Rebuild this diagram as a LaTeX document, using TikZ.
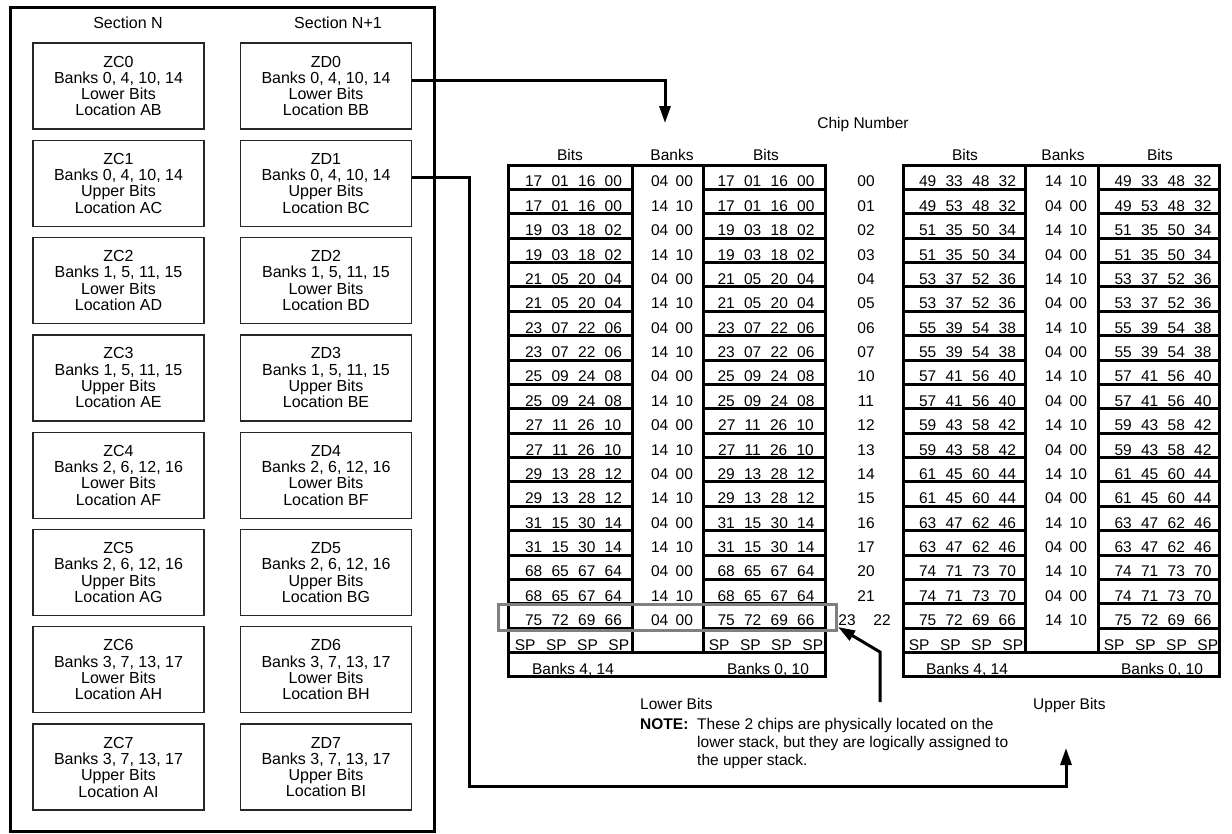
\documentclass[tikz,border=0pt]{standalone}
\usepackage{fontspec}
\setmainfont{Liberation Sans}
\usetikzlibrary{arrows.meta}
\newcommand\qgap{\hspace{9.3pt}}
\begin{document}
\begin{tikzpicture}[x=1pt,y=-1pt,
  panel/.style={draw=black,line width=3pt},
  chipbox/.style={draw=black!85,line width=1.3pt,minimum width=171pt,minimum height=86pt,
    align=center,inner sep=0pt,font=\fontsize{16}{16.3}\selectfont},
  sechead/.style={anchor=base,inner sep=0pt,font=\fontsize{16}{18}\selectfont},
  grid/.style={line width=3pt},
  tabtxt/.style={anchor=base,inner sep=0pt,font=\fontsize{15.5}{18}\selectfont},
  conn/.style={line width=3pt},
  tip/.style={-{Triangle[length=17pt,width=11pt]}},
  hilite/.style={draw=black!50,line width=3pt}
]
\useasboundingbox (0,0) rectangle (1232,833);

% ---------------- left panel ----------------
\draw[panel] (10,7) rectangle (434,831);
\node[sechead] (secn) at (128,28) {Section N};
\node[sechead] (secn1) at (338,28) {Section N+1};

\foreach \i/\bk/\lu/\la/\lb in {0/{0, 4, 10, 14}/Lower/AB/BB, 1/{0, 4, 10, 14}/Upper/AC/BC,
  2/{1, 5, 11, 15}/Lower/AD/BD, 3/{1, 5, 11, 15}/Upper/AE/BE,
  4/{2, 6, 12, 16}/Lower/AF/BF, 5/{2, 6, 12, 16}/Upper/AG/BG,
  6/{3, 7, 13, 17}/Lower/AH/BH, 7/{3, 7, 13, 17}/Upper/AI/BI}{
  \node[chipbox] (zc\i) at (118.5,{86+97.3*\i}) {ZC\i\\Banks \bk\\\lu\ Bits\\Location \la};
  \node[chipbox] (zd\i) at (326,{86+97.3*\i}) {ZD\i\\Banks \bk\\\lu\ Bits\\Location \lb};
}

% ---------------- table ----------------
\def\T{165}
\def\p{24.38}
\node[tabtxt] (chipnum) at (863,128) {Chip Number};

% stack frames
\foreach \a/\b/\c/\d/\s in {508/632/703/825/l, 903/1025.5/1098/1219/r}{
  \draw[grid] (\a,\T) rectangle (\b,{\T+20*\p});
  \draw[grid] (\c,\T) rectangle (\d,{\T+20*\p});
  \draw[grid] (\b,\T) -- (\c,\T);
  \draw[grid] (\a,{\T+20*\p}) rectangle (\d,{\T+21*\p});
  \foreach \k in {1,...,19}{
    \draw[grid] (\a,{\T+\k*\p}) -- (\b,{\T+\k*\p});
    \draw[grid] (\c,{\T+\k*\p}) -- (\d,{\T+\k*\p});
  }
}

% headers
\node[tabtxt] (hbl1) at (570,160) {Bits};
\node[tabtxt] (hkl) at (672,160) {Banks};
\node[tabtxt] (hbl2) at (766,160) {Bits};
\node[tabtxt] (hbr1) at (965,160) {Bits};
\node[tabtxt] (hkr) at (1063,160) {Banks};
\node[tabtxt] (hbr2) at (1160,160) {Bits};

% left stack data
\foreach \a/\b/\c/\e [count=\i from 0] in {17/01/16/00,17/01/16/00,19/03/18/02,19/03/18/02,
  21/05/20/04,21/05/20/04,23/07/22/06,23/07/22/06,25/09/24/08,25/09/24/08,
  27/11/26/10,27/11/26/10,29/13/28/12,29/13/28/12,31/15/30/14,31/15/30/14,
  68/65/67/64,68/65/67/64,75/72/69/66}{
  \pgfmathsetmacro\yy{\T+(\i+1)*\p-2.5}
  \node[tabtxt] (lb\i) at (573.5,\yy) {\a\qgap\b\qgap\c\qgap\e};
  \node[tabtxt] (lc\i) at (766,\yy) {\a\qgap\b\qgap\c\qgap\e};
  \pgfmathtruncatemacro\odd{mod(\i,2)}
  \ifnum\odd=0
    \node[tabtxt] (lk\i) at (672,\yy) {04\hspace{7.5pt}00};
  \else
    \node[tabtxt] (lk\i) at (672,\yy) {14\hspace{7.5pt}10};
  \fi
}
% right stack data
\foreach \a/\b/\c/\e [count=\i from 0] in {49/33/48/32,49/53/48/32,51/35/50/34,51/35/50/34,
  53/37/52/36,53/37/52/36,55/39/54/38,55/39/54/38,57/41/56/40,57/41/56/40,
  59/43/58/42,59/43/58/42,61/45/60/44,61/45/60/44,63/47/62/46,63/47/62/46,
  74/71/73/70,74/71/73/70,75/72/69/66}{
  \pgfmathsetmacro\yy{\T+(\i+1)*\p-2.5}
  \node[tabtxt] (rb\i) at (967.5,\yy) {\a\qgap\b\qgap\c\qgap\e};
  \node[tabtxt] (rc\i) at (1163,\yy) {\a\qgap\b\qgap\c\qgap\e};
  \pgfmathtruncatemacro\odd{mod(\i,2)}
  \ifnum\odd=0
    \node[tabtxt] (rk\i) at (1066,\yy) {14\hspace{7.5pt}10};
  \else
    \node[tabtxt] (rk\i) at (1066,\yy) {04\hspace{7.5pt}00};
  \fi
}
% chip numbers
\foreach \n [count=\i from 0] in {00,01,02,03,04,05,06,07,10,11,12,13,14,15,16,17,20,21}{
  \node[tabtxt] (cn\i) at (866,{\T+(\i+1)*\p-2.5}) {\n};
}
\node[tabtxt] (cn18a) at (847,{\T+19*\p-2.5}) {23};
\node[tabtxt] (cn18b) at (882,{\T+19*\p-2.5}) {22};

% SP row and bank row
\foreach \x/\nm in {572/spl1, 766/spl2, 966/spr1, 1161/spr2}{
  \node[tabtxt] (\nm) at (\x,{\T+20*\p-2.5}) {SP\hspace{10.5pt}SP\hspace{10.5pt}SP\hspace{10.5pt}SP};
}
\node[tabtxt] (bkl1) at (573,{\T+21*\p-2.5}) {Banks 4, 14};
\node[tabtxt] (bkl2) at (768,{\T+21*\p-2.5}) {Banks 0, 10};
\node[tabtxt] (bkr1) at (967,{\T+21*\p-2.5}) {Banks 4, 14};
\node[tabtxt] (bkr2) at (1162,{\T+21*\p-2.5}) {Banks 0, 10};

% highlight
\node[hilite,anchor=north west,minimum width=338pt,minimum height=26pt,inner sep=0pt] (hl) at (497,603) {};

% labels below
\node[tabtxt,anchor=base west] (lowerbits) at (640,709) {Lower Bits};
\node[tabtxt,anchor=base west] (upperbits) at (1033,709) {Upper Bits};
\node[tabtxt,anchor=base west] (notelbl) at (640,729) {\bfseries NOTE:};
\node[tabtxt,anchor=base west] (note1) at (697,729) {These 2 chips are physically located on the};
\node[tabtxt,anchor=base west] (note2) at (697,747) {lower stack, but they are logically assigned to};
\node[tabtxt,anchor=base west] (note3) at (697,765) {the upper stack.};

% ---------------- connectors ----------------
\coordinate (t1) at (665,123);
\draw[conn,tip] ([yshift=6pt]zd0.east) -| (t1);
\coordinate (c2) at (469,786);
\coordinate (t2) at (1066,748);
\draw[conn,tip] ([yshift=6pt]zd1.east) -| (c2) -| (t2);
\coordinate (n0) at (880,702);
\coordinate (n1) at (880,652);
\coordinate (n2) at (838,627);
\draw[conn,tip] (n0) -- (n1) -- (n2);
\end{tikzpicture}
\end{document}
